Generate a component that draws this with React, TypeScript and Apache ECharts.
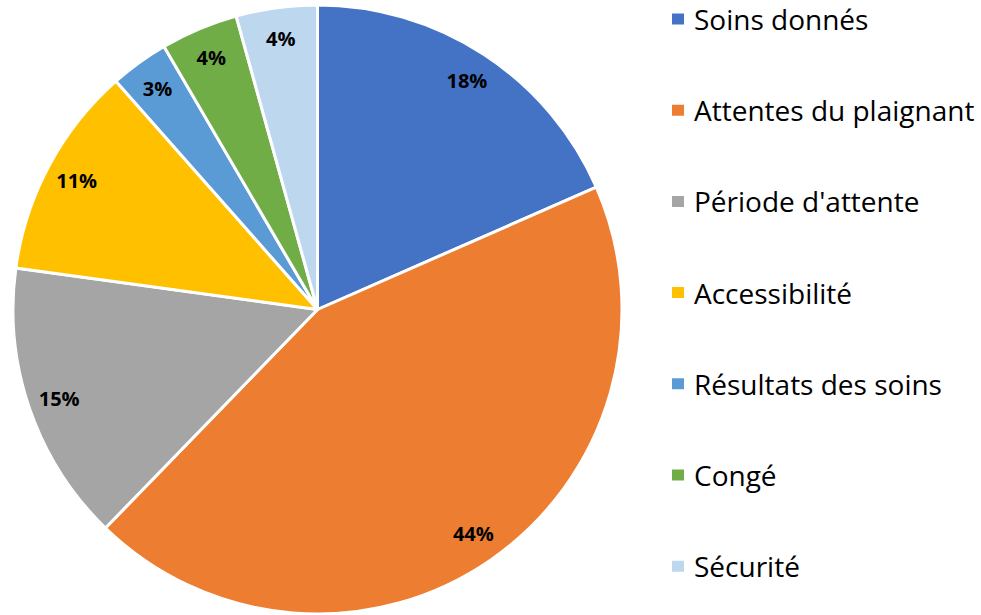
import React, { useEffect, useRef } from "react";
import * as echarts from "echarts";

const categories = [
  "Soins donnés",
  "Attentes du plaignant",
  "Période d'attente",
  "Accessibilité",
  "Résultats des soins",
  "Congé",
  "Sécurité",
];
const values = [18.4, 43.8, 14.9, 11.3, 3.1, 4.1, 4.3];
const colors = ["#4472C4", "#ED7D31", "#A5A5A5", "#FFC000", "#5B9BD5", "#70AD47", "#BDD7EE"];

export default function App() {
  const ref = useRef<HTMLDivElement>(null);
  useEffect(() => {
    document.body.style.margin = "0";
    const chart = echarts.init(ref.current!, undefined, { renderer: "svg" });
    const data = categories.map((name, i) => ({ name, value: values[i], itemStyle: { color: colors[i] } }));
    chart.setOption({
      animation: false,
      backgroundColor: "#ffffff",
      legend: {
        orient: "vertical",
        left: 670,
        top: 4,
        padding: 0,
        itemWidth: 14,
        itemHeight: 13,
        itemGap: 61.2,
        icon: "rect",
        selectedMode: false,
        data: categories.map((name, i) => ({ name, itemStyle: { color: colors[i] } })),
        textStyle: {
          fontFamily: "Open Sans",
          fontSize: 28,
          lineHeight: 30,
          color: "#000000",
          padding: [0, 0, 0, 4],
        },
      },
      series: [
        {
          type: "pie",
          center: [317.5, 309.5],
          radius: [0, 304.5],
          startAngle: 90,
          clockwise: true,
          silent: true,
          itemStyle: { borderColor: "#ffffff", borderWidth: 3 },
          label: { show: false },
          labelLine: { show: false },
          data,
        },
        {
          type: "pie",
          center: [317.5, 309.5],
          radius: [236, 304.5],
          startAngle: 90,
          clockwise: true,
          silent: true,
          itemStyle: { color: "rgba(0,0,0,0)", borderWidth: 0 },
          label: {
            show: true,
            position: "inside",
            fontFamily: "Open Sans",
            fontWeight: "bold",
            fontSize: 20,
            color: "#000000",
            formatter: (p: any) => Math.round(p.percent) + "%",
          },
          labelLine: { show: false },
          data: categories.map((name, i) => ({ name, value: values[i] })),
        },
      ],
    });
    return () => chart.dispose();
  }, []);
  return <div ref={ref} style={{ width: 981, height: 615 }} />;
}
